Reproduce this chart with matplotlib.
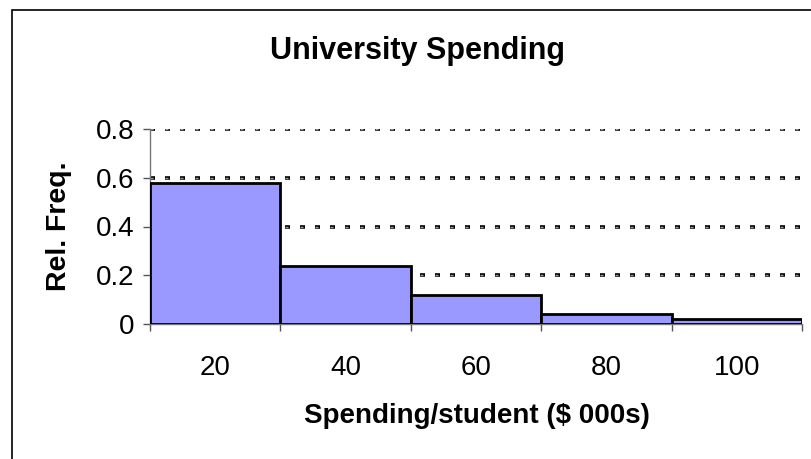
import numpy as np
import matplotlib.pyplot as plt
from matplotlib.patches import Rectangle

plt.rcParams['font.family'] = ['Liberation Sans', 'DejaVu Sans']
plt.rcParams['lines.scale_dashes'] = False

# histogram bins (spending per student, $000s) and relative frequencies
bin_edges = [10, 30, 50, 70, 90, 110]
rel_freq = [0.58, 0.24, 0.12, 0.04, 0.02]
x_labels = [20, 40, 60, 80, 100]
y_ticks = [0, 0.2, 0.4, 0.6, 0.8]

W, H = 811, 459
fig = plt.figure(figsize=(W / 100, H / 100), dpi=100)

# chart border (runs off the right/bottom edge)
fig.patches.append(Rectangle((11.5 / W, -0.1), 1.2, 1.1 - 10.5 / H,
                             transform=fig.transFigure, fill=False,
                             edgecolor='black', lw=1.2, zorder=0))

ax = fig.add_axes([150 / W, (H - 324) / H, (802 - 150) / W, (324 - 129) / H])

lefts = np.array(bin_edges[:-1])
widths = np.diff(bin_edges)
ax.bar(lefts, rel_freq, width=widths, align='edge', color='#9999FF',
       edgecolor='black', linewidth=2.0, zorder=3)

ax.set_xlim(bin_edges[0], bin_edges[-1])
ax.set_ylim(0, 0.8)

# dotted excel-style gridlines
for y in y_ticks[1:]:
    ax.axhline(y, color='black', lw=2.6, dashes=(3.6, 7.2), zorder=1)
    ax.axhline(y, color='#9a9a9a', lw=1.0, dashes=(2.2, 8.6),
               dash_capstyle='butt', zorder=2)

ax.set_yticks(y_ticks)
ax.set_yticklabels(['0', '0.2', '0.4', '0.6', '0.8'])
ax.set_xticks(bin_edges, minor=True)
ax.set_xticks(x_labels)
ax.set_xticklabels([str(v) for v in x_labels])
ax.tick_params(axis='x', which='major', length=0, labelsize=20, pad=22)
ax.tick_params(axis='x', which='minor', length=5, color='#555555', width=1)
ax.tick_params(axis='y', length=5, color='#555555', width=1, labelsize=20, pad=6)

for side in ['top', 'right']:
    ax.spines[side].set_visible(False)
for side in ['left', 'bottom']:
    ax.spines[side].set_color('#777777')
    ax.spines[side].set_linewidth(1)

fig.text(418 / W, 1 - 51 / H, 'University Spending', ha='center', va='center',
         fontsize=22, fontweight='bold')
fig.text(477 / W, 1 - 416 / H, 'Spending/student ($ 000s)', ha='center',
         va='center', fontsize=20, fontweight='bold')
fig.text(59 / W, 1 - 226 / H, 'Rel. Freq.', ha='center', va='center',
         rotation=90, fontsize=20.5, fontweight='bold')

fig.savefig('out.png', dpi=100)
